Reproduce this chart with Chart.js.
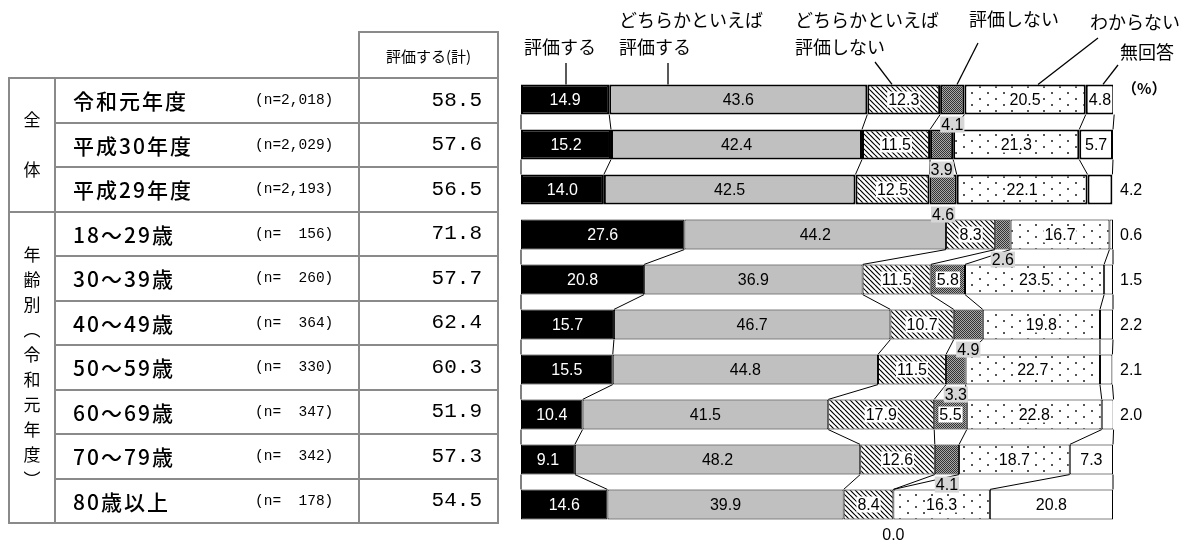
<!DOCTYPE html>
<html>
<head>
<meta charset="utf-8">
<script src="https://cdn.jsdelivr.net/npm/chart.js@4.4.1/dist/chart.umd.min.js"></script>
<style>
  body { margin: 0; background: #fff; width: 1189px; height: 541px; overflow: hidden; position: relative; font-family: "Noto Sans CJK JP", sans-serif; color: #000; }
  #wrap { position: absolute; left: 0; top: 0; width: 1189px; height: 541px; }
  .cell { position: absolute; border: 2px solid #8a8a8a; box-sizing: border-box; }
  .lbl { position: absolute; left: 17px; top: 0; bottom: 0; display: flex; align-items: center; font-size: 21px; font-weight: 500; letter-spacing: 2px; }
  .n { position: absolute; left: 199px; top: 0; bottom: 0; display: flex; align-items: center; font-family: "Liberation Mono", monospace; font-size: 14.5px; white-space: pre; }
  .val { position: absolute; right: 15px; top: 0; bottom: 0; display: flex; align-items: center; font-family: "Liberation Mono", monospace; font-size: 21px; }
  .vcell { display: flex; align-items: center; justify-content: center; }
  .vert { writing-mode: vertical-rl; white-space: nowrap; font-size: 17px; line-height: 17px; }
</style>
</head>
<body>
<div id="wrap"><canvas id="chart"></canvas></div>
<div id="table"></div>
<script>
// 評価（令和元年度・平成30年度・平成29年度／年齢別）
const categories = ["令和元年度", "平成30年度", "平成29年度", "18～29歳", "30～39歳", "40～49歳", "50～59歳", "60～69歳", "70～79歳", "80歳以上"];
const sampleSizes = ["2,018", "2,029", "2,193", "156", "260", "364", "330", "347", "342", "178"];
const totals = [58.5, 57.6, 56.5, 71.8, 57.7, 62.4, 60.3, 51.9, 57.3, 54.5];
const groupOf = [0, 0, 0, 1, 1, 1, 1, 1, 1, 1];
const groupNames = ["全体", "年齢別（令和元年度）"];

const seriesNames = ["評価する", "どちらかといえば評価する", "どちらかといえば評価しない", "評価しない", "わからない", "無回答"];
const hyoukaSuru = [14.9, 15.2, 14.0, 27.6, 20.8, 15.7, 15.5, 10.4, 9.1, 14.6];
const dochiraSuru = [43.6, 42.4, 42.5, 44.2, 36.9, 46.7, 44.8, 41.5, 48.2, 39.9];
const dochiraShinai = [12.3, 11.5, 12.5, 8.3, 11.5, 10.7, 11.5, 17.9, 12.6, 8.4];
const hyoukaShinai = [4.1, 3.9, 4.6, 2.6, 5.8, 4.9, 3.3, 5.5, 4.1, 0.0];
const wakaranai = [20.5, 21.3, 22.1, 16.7, 23.5, 19.8, 22.7, 22.8, 18.7, 16.3];
const mukaitou = [4.8, 5.7, 4.2, 0.6, 1.5, 2.2, 2.1, 2.0, 7.3, 20.8];
const series = [hyoukaSuru, dochiraSuru, dochiraShinai, hyoukaShinai, wakaranai, mukaitou];

// ---- left table ----
const table = document.getElementById("table");
function cell(x, y, w, h) {
  const d = document.createElement("div");
  d.className = "cell";
  d.style.left = (x - 1) + "px";
  d.style.top = (y - 1) + "px";
  d.style.width = (w + 2) + "px";
  d.style.height = (h + 2) + "px";
  table.appendChild(d);
  return d;
}
const rowTop = 78, rowH = 44.5;
const head = cell(359, 32, 139, 46);
head.style.display = "flex";
head.style.alignItems = "center";
head.style.justifyContent = "center";
head.style.fontSize = "15px";
head.textContent = "評価する(計)";

categories.forEach(function(name, i) {
  const y = rowTop + i * rowH;
  const c1 = cell(55, y, 304, rowH);
  const n = sampleSizes[i].padStart(5, " ");
  c1.innerHTML = '<div class="lbl">' + name + '</div><div class="n">(n=' + n + ')</div>';
  const c2 = cell(359, y, 139, rowH);
  c2.innerHTML = '<div class="val">' + totals[i].toFixed(1) + '</div>';
});
[[0, 3, 33], [3, 10, 8]].forEach(function(g, k) {
  const c = cell(9, rowTop + g[0] * rowH, 46, (g[1] - g[0]) * rowH);
  c.classList.add("vcell");
  const s = document.createElement("span");
  s.className = "vert";
  s.style.letterSpacing = g[2] + "px";
  s.style.paddingTop = g[2] + "px";
  s.textContent = groupNames[k];
  c.appendChild(s);
});

// ---- patterns ----
const canvas = document.getElementById("chart");
canvas.width = 1189; canvas.height = 541;
const ctx = canvas.getContext("2d");

function makePattern(w, h, draw) {
  const c = document.createElement("canvas");
  c.width = w; c.height = h;
  const g = c.getContext("2d");
  g.fillStyle = "#fff";
  g.fillRect(0, 0, w, h);
  draw(g, w, h);
  return ctx.createPattern(c, "repeat");
}
const hatch = makePattern(5, 5, function(g, w, h) {
  g.strokeStyle = "#000";
  g.lineWidth = 1.2;
  [-5, 0, 5].forEach(function(c) {
    g.beginPath(); g.moveTo(0, c); g.lineTo(w, h + c); g.stroke();
  });
});
const checker = makePattern(2, 2, function(g) {
  g.fillStyle = "#333"; g.fillRect(0, 0, 1, 1); g.fillRect(1, 1, 1, 1);
  g.fillStyle = "#a8a8a8"; g.fillRect(1, 0, 1, 1); g.fillRect(0, 1, 1, 1);
});
const dots = makePattern(16, 12, function(g) {
  g.fillStyle = "#555";
  g.fillRect(3, 2, 2, 2);
  g.fillRect(11, 8, 2, 2);
});
const fills = ["#000", "#c0c0c0", hatch, checker, dots, "#fff"];

// ---- plugins ----
const seriesLines = {
  id: "seriesLines",
  afterDatasetsDraw(chart) {
    const c = chart.ctx, x = chart.scales.x;
    const bars = chart.getDatasetMeta(0).data;
    c.save();
    c.strokeStyle = "#000";
    c.lineWidth = 1;
    for (let i = 0; i < categories.length - 1; i++) {
      if (groupOf[i] !== groupOf[i + 1]) continue;
      const yA = bars[i].y + bars[i].height / 2;
      const yB = bars[i + 1].y - bars[i + 1].height / 2;
      let cumA = 0, cumB = 0;
      for (let k = 0; k <= series.length; k++) {
        c.beginPath();
        c.moveTo(x.getPixelForValue(cumA), yA);
        c.lineTo(x.getPixelForValue(cumB), yB);
        c.stroke();
        if (k < series.length) { cumA += series[k][i]; cumB += series[k][i + 1]; }
      }
    }
    c.restore();
  }
};

const valueLabels = {
  id: "valueLabels",
  afterDatasetsDraw(chart) {
    const c = chart.ctx, x = chart.scales.x;
    c.save();
    c.font = "16px 'Liberation Sans', Arial, sans-serif";
    c.textBaseline = "middle";
    series.forEach(function(vals, d) {
      const meta = chart.getDatasetMeta(d);
      vals.forEach(function(v, i) {
        const el = meta.data[i];
        const text = v.toFixed(1);
        let cx = (el.x + el.base) / 2, cy = el.y, bg = null, align = "center";
        if (d === 3 && v < 5.5) {
          cy = el.y + el.height / 2 + (v === 0 ? 15 : 10);
          bg = v === 0 ? null : "#d6d6d6";
        } else if (d === 5 && v < 4.5) {
          cx = x.getPixelForValue(100) + 7;
          align = "left";
        } else if (d >= 2 && d <= 4) {
          bg = "#fff";
        }
        const w = c.measureText(text).width;
        if (bg) {
          c.fillStyle = bg;
          c.fillRect(cx - w / 2 - 1, cy - 8, w + 2, 16);
        }
        c.fillStyle = d === 0 ? "#fff" : "#000";
        c.textAlign = align;
        c.fillText(text, cx, cy + 1);
      });
    });
    c.restore();
  }
};

// column headers with leader lines
const headers = [
  { lines: ["評価する"], x: 524, y: 47, from: [566, 63], to: 566 },
  { lines: ["どちらかといえば", "評価する"], x: 619, y: 20, from: [668, 63], to: 668 },
  { lines: ["どちらかといえば", "評価しない"], x: 795, y: 20, from: [875, 62], to: 892 },
  { lines: ["評価しない"], x: 969, y: 19, from: [978, 43], to: 957 },
  { lines: ["わからない"], x: 1090, y: 22, from: [1098, 38], to: 1038 },
  { lines: ["無回答"], x: 1120, y: 52, from: [1118, 65], to: 1103 }
];
const headerLabels = {
  id: "headerLabels",
  afterDraw(chart) {
    const c = chart.ctx;
    const first = chart.getDatasetMeta(0).data[0];
    const top = first.y - first.height / 2;
    c.save();
    c.fillStyle = "#000";
    c.strokeStyle = "#000";
    c.lineWidth = 1.3;
    c.font = "18px 'Noto Sans CJK JP', sans-serif";
    c.textAlign = "left";
    c.textBaseline = "middle";
    headers.forEach(function(h) {
      h.lines.forEach(function(t, k) { c.fillText(t, h.x, h.y + k * 27); });
      c.beginPath();
      c.moveTo(h.from[0], h.from[1]);
      c.lineTo(h.to, top);
      c.stroke();
    });
    c.font = "bold 15px 'Noto Sans CJK JP', sans-serif";
    c.fillText("（%）", 1122, 88);
    c.restore();
  }
};

// ---- chart ----
new Chart(ctx, {
  type: "bar",
  data: {
    labels: categories,
    datasets: series.map(function(vals, d) {
      return {
        label: seriesNames[d],
        data: vals,
        backgroundColor: fills[d],
        borderColor: "#000",
        borderWidth: function(c) { return groupOf[c.dataIndex] === 0 ? 2 : 1; },
        borderSkipped: false,
        barPercentage: 0.67,
        categoryPercentage: 1
      };
    })
  },
  options: {
    indexAxis: "y",
    responsive: false,
    animation: false,
    layout: { padding: { left: 521, right: 76, top: 77, bottom: 14 } },
    scales: {
      x: { stacked: true, min: 0, max: 100, display: false },
      y: { stacked: true, display: false }
    },
    plugins: {
      legend: { display: false },
      tooltip: { enabled: false }
    }
  },
  plugins: [seriesLines, valueLabels, headerLabels]
});
</script>
</body>
</html>
